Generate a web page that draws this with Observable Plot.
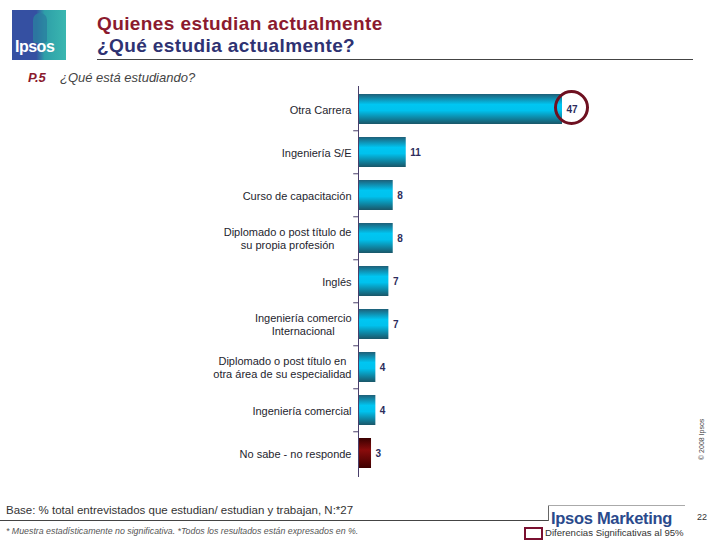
<!DOCTYPE html>
<html><head><meta charset="utf-8">
<script src="https://cdn.jsdelivr.net/npm/d3@7"></script>
<script src="https://cdn.jsdelivr.net/npm/@observablehq/plot@0.6"></script>
<style>
body{margin:0;background:#fff;font-family:"Liberation Sans",Arial,sans-serif;}
#page{position:relative;width:720px;height:540px;overflow:hidden;}
#header{position:relative;height:85px;}
#chart{position:relative;height:400px;}
#chart svg{display:block;}
#footer{position:relative;height:55px;}
.abs{position:absolute;white-space:nowrap;}
</style></head>
<body><div id="page">
<div id="header">
  <div class="abs" style="left:12px;top:10px;width:54px;height:50px;background:linear-gradient(90deg,#3550a2 0%,#3550a2 45%,#2e9fa8 60%,#3ab7b0 100%);"></div>
  <div class="abs" style="left:33px;top:13px;width:14px;height:30px;border-radius:7px 7px 3px 3px;background:#2b7fa0;opacity:.8"></div>
  <div class="abs" style="left:15px;top:38px;font-size:16px;font-weight:bold;color:#fff;letter-spacing:-0.5px;">Ipsos</div>
  <div class="abs" style="left:97px;top:13px;font-size:19px;font-weight:bold;color:#8b1a2e;letter-spacing:0.4px;">Quienes estudian actualmente</div>
  <div class="abs" style="left:97px;top:35px;font-size:19px;font-weight:bold;color:#2e3272;letter-spacing:0.4px;">¿Qué estudia actualmente?</div>
  <div class="abs" style="left:97px;top:59px;width:596px;height:1px;background:#444;"></div>
  <div class="abs" style="left:28px;top:70px;font-size:13px;color:#8b1a2e;font-weight:bold;font-style:italic;">P.5</div>
  <div class="abs" style="left:60px;top:70px;font-size:13px;color:#444;font-style:italic;">¿Qué está estudiando?</div>
</div>
<div id="chart"></div>
<div id="footer">
  <div class="abs" style="left:6px;top:19px;font-size:11.5px;color:#333;">Base: % total entrevistados que estudian/ estudian y trabajan, N:*27</div>
  <div class="abs" style="left:0px;top:35px;width:548px;height:1px;background:#444;"></div>
  <div class="abs" style="left:548px;top:20px;width:1px;height:16px;background:#666;"></div>
  <div class="abs" style="left:548px;top:20px;width:137px;height:1px;background:#aaa;"></div>
  <div class="abs" style="left:551px;top:24px;font-size:16.5px;font-weight:bold;color:#2a4a8c;letter-spacing:-0.3px;">Ipsos Marketing</div>
  <div class="abs" style="left:697px;top:27px;font-size:9px;color:#333;">22</div>
  <div class="abs" style="left:6px;top:41px;font-size:8.8px;color:#555;font-style:italic;">* Muestra estadísticamente no significativa. *Todos los resultados están expresados en %.</div>
  <div class="abs" style="left:524px;top:42px;width:15px;height:9px;border:2px solid #7a1030;"></div>
  <div class="abs" style="left:545px;top:42px;font-size:9.6px;color:#333;">Diferencias Significativas al 95%</div>
  <div class="abs" style="left:698px;top:-25px;font-size:7px;color:#444;transform:rotate(-90deg);transform-origin:left top;">© 2008 Ipsos</div>
</div>
</div>
<script>
const categories = [
  "Otra Carrera",
  "Ingeniería S/E",
  "Curso de capacitación",
  "Diplomado o post título de\nsu propia profesión",
  "Inglés",
  "Ingeniería comercio\nInternacional",
  "Diplomado o post título en\notra área de su especialidad",
  "Ingeniería comercial",
  "No sabe - no responde"
];
const values = [47, 11, 8, 8, 7, 7, 4, 4, 3];
const highlighted = ["Otra Carrera"];
const nonResponse = ["No sabe - no responde"];

const data = categories.map((c, i) => ({category: c, value: values[i]}));

const H = 400, MT = 1, MB = 8;
const PI = 0.3, PO = 0.15;
const step = (H - MT - MB) / (categories.length - PI + 2 * PO);

const plot = Plot.plot({
  width: 720,
  height: H,
  marginLeft: 358,
  marginRight: 158,
  marginTop: MT,
  marginBottom: MB,
  style: {fontFamily: "'Liberation Sans', Arial, sans-serif", background: "transparent"},
  x: {domain: [0, 47], axis: null},
  y: {domain: categories, paddingInner: PI, paddingOuter: PO, label: null},
  marks: [
    Plot.barX(data, {
      y: "category", x: "value",
      fill: d => nonResponse.includes(d.category) ? "url(#gradRed)" : "url(#gradBlue)"
    }),
    Plot.ruleX([0], {stroke: "#4a3f6b", strokeWidth: 1}),
    Plot.ruleY(categories.slice(1), {y: d => d, x1: -1.1, x2: 0, dy: -step / 2, stroke: "#4a3f6b"}),
    Plot.axisY({tickSize: 0, tickPadding: 7, fontSize: 11, fill: "#1e1e2e", lineHeight: 1.15}),
    Plot.text(data, {
      y: "category", x: "value", text: d => String(d.value),
      dx: 4, textAnchor: "start", fontWeight: "bold", fontSize: 10, fill: "#2c2c5c"
    }),
    Plot.dot(data.filter(d => highlighted.includes(d.category)), {
      y: "category", x: "value", dx: 9, dy: -2, r: 16,
      stroke: "#6e1020", strokeWidth: 3, fill: "none"
    })
  ]
});

const ns = "http://www.w3.org/2000/svg";
const defs = document.createElementNS(ns, "defs");
function grad(id, stops) {
  const g = document.createElementNS(ns, "linearGradient");
  g.setAttribute("id", id);
  g.setAttribute("x1", "0"); g.setAttribute("y1", "0");
  g.setAttribute("x2", "0"); g.setAttribute("y2", "1");
  for (const [o, c] of stops) {
    const s = document.createElementNS(ns, "stop");
    s.setAttribute("offset", o); s.setAttribute("stop-color", c);
    g.appendChild(s);
  }
  defs.appendChild(g);
}
grad("gradBlue", [["0", "#1e5f78"], ["0.35", "#00c6f2"], ["0.55", "#00c2ee"], ["1", "#1a5668"]]);
grad("gradRed", [["0", "#3a0000"], ["0.4", "#8a0c0c"], ["1", "#3e0000"]]);
plot.insertBefore(defs, plot.firstChild);

document.getElementById("chart").appendChild(plot);

// center multi-line tick labels as a block, right-aligned to the axis
plot.querySelectorAll('g[aria-label="y-axis tick label"] text').forEach(t => {
  const spans = t.querySelectorAll("tspan");
  if (spans.length > 1) {
    let w = 0;
    spans.forEach(s => { w = Math.max(w, s.getComputedTextLength()); });
    t.setAttribute("text-anchor", "middle");
    t.setAttribute("transform", (t.getAttribute("transform") || "") + ` translate(${-w / 2},0)`);
  }
});
</script>
</body></html>
